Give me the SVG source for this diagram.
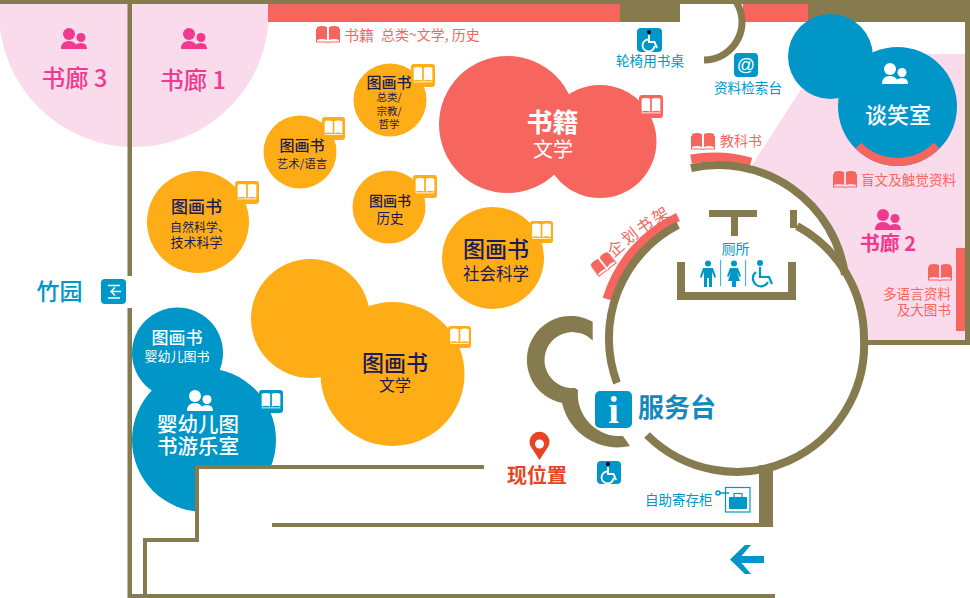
<svg xmlns="http://www.w3.org/2000/svg" xmlns:xlink="http://www.w3.org/1999/xlink" width="970" height="598" viewBox="0 0 970 598">
<style>
text{font-family:"Noto Sans CJK SC","Noto Sans",sans-serif;text-anchor:middle}
.s{text-anchor:start}.e{text-anchor:end}
.n{fill:#1b1b55}.w{fill:#fff}.b{fill:#0096c8}.r{fill:#f6665f}.p{fill:#f0398f}
.wall{fill:#867b4e}.ws{fill:none;stroke:#867b4e}
.o{fill:#ffad17}.bf{fill:#0096c8}.rf{fill:#f6665f}
</style>
<defs>
<g id="bk"><path d="M0,1 Q5,-1 10,1 V14 Q5,12 0,14 Z M12,1 Q17,-1 22,1 V14 Q17,12 12,14 Z"/><path d="M-1,3 V16.500 H9.500 Q11,18 12.500,16.500 H23 V3 H22 V15.500 H12 L11,16.500 L10,15.500 H0 V3 Z"/></g>
<g id="ppl"><circle cx="8" cy="6" r="6"/><path d="M0,21 Q0,13 8,13 Q13,13 15,17 V21 Z"/><circle cx="20" cy="9.500" r="4.500"/><path d="M13,21 Q13,15 20,15 Q26,15 26,21 Z"/></g>
<g id="wh"><circle cx="0" cy="-9" r="2"/><path d="M0,-6 V1 H5.500 L8,7" fill="none" stroke="#fff" stroke-width="2"/><path d="M-1,-1.500 A6,6 0 1 0 5.500,5" fill="none" stroke="#fff" stroke-width="1.800"/></g>
<g id="badge"><path d="M-11,-9 Q-6,-11 -1,-9 V6 Q-6,4 -11,6 Z M1,-9 Q6,-11 11,-9 V6 Q6,4 1,6 Z" fill="#fff"/><path d="M-11,7.500 H11" stroke="#fff" fill="none"/></g>
<clipPath id="top"><rect x="0" y="4" width="970" height="594"/></clipPath>
<path id="arcT" d="M614,258 Q640,232 682,210"/>
</defs>

<g id="floor-zones">
<circle cx="134" cy="12" r="135" fill="#fadbec" clip-path="url(#top)"/>
<path d="M752,165 L802,88 L838,54 H965 V340 H864 A128,128 0 0 0 842,268 A128,128 0 0 0 752,170 Z" fill="#fadbec"/>
<rect x="268" y="4" width="352" height="18" class="rf"/>
<rect x="743" y="4" width="65" height="18" class="rf"/>
<rect x="956" y="248" width="10" height="83" class="rf"/>
<path d="M691,159 A138,138 0 0 1 751,162" fill="none" stroke="#f6665f" stroke-width="9"/>
<path d="M678,217 A134,134 0 0 0 607,299" fill="none" stroke="#f6665f" stroke-width="9"/>
</g>

<g id="walls">
<rect x="0" y="0" width="970" height="4" class="wall"/>
<rect x="620" y="0" width="60" height="22" class="wall"/>
<rect x="808" y="0" width="162" height="22" class="wall"/>
<rect x="965" y="0" width="5" height="345" class="wall"/>
<rect x="866" y="340" width="104" height="5" class="wall"/>
<path d="M735,0 A38,38 0 0 1 704,60" class="ws" stroke-width="7"/>
<rect x="127.500" y="0" width="4.500" height="276" class="wall"/>
<rect x="127.500" y="308" width="4.500" height="290" class="wall"/>
<path d="M691,168 A128,128 0 0 1 845,275" class="ws" stroke-width="8"/>
<path d="M678,225 A127.500,127.500 0 0 0 617,383" class="ws" stroke-width="8"/>
<path d="M647,435 A127.500,127.500 0 0 0 864,338 A127.500,127.500 0 0 0 797,226" class="ws" stroke-width="8"/>
<path d="M790,210 H797 V228 H790 Z" class="wall"/>
<path d="M709,210 H757 V217 H738 V236 H731 V217 H709 Z" class="wall"/>
<path d="M677,262 H685 V292 H788 V262 H796 V300 H677 Z" class="wall"/>
<path d="M592.700,321.700 A44,44 0 1 0 562,403 A57,57 0 0 0 630,446 L623,436 A42,42 0 0 1 578,390 L575,388 A28,28 0 1 1 592.700,340.700 Z" class="wall"/>
</g>

<g id="node-orange-lit"><circle cx="310.500" cy="318.500" r="59.500" class="o"/><circle cx="392.500" cy="374" r="72" class="o"/><rect x="448" y="326" width="23" height="22" rx="3" class="o"/><use href="#badge" transform="translate(459.500,337) scale(.85)"/><text x="395" y="371" font-size="22" font-weight="500" class="n">图画书</text><text x="395" y="391" font-size="16" class="n">文学</text></g>
<g id="node-orange-sci"><circle cx="198" cy="222" r="51" class="o"/><rect x="235" y="181" width="24" height="23" rx="3" class="o"/><use href="#badge" transform="translate(247,192.500) scale(.85)"/><text x="196.500" y="213" font-size="17" font-weight="500" class="n">图画书</text><text x="170" y="232" font-size="12" class="n s">自然科学、</text><text x="196.500" y="247" font-size="13" class="n">技术科学</text></g>
<g id="node-orange-art"><circle cx="300" cy="152" r="36.500" class="o"/><rect x="322" y="117" width="23" height="23" rx="3" class="o"/><use href="#badge" transform="translate(333.500,128.500) scale(.8)"/><text x="302" y="151" font-size="15" font-weight="500" class="n">图画书</text><text x="302" y="168" font-size="11.500" class="n">艺术/语言</text></g>
<g id="node-orange-gen"><circle cx="390" cy="100" r="36.500" class="o"/><rect x="411" y="64" width="24" height="23" rx="3" class="o"/><use href="#badge" transform="translate(423,75.500) scale(.85)"/><text x="389" y="88" font-size="15" font-weight="500" class="n">图画书</text><text x="389" y="101" font-size="10.500" class="n">总类/</text><text x="389" y="115" font-size="10.500" class="n">宗教/</text><text x="389" y="128" font-size="10.500" class="n">哲学</text></g>
<g id="node-orange-his"><circle cx="389" cy="207" r="36.500" class="o"/><rect x="413" y="175" width="24" height="23" rx="3" class="o"/><use href="#badge" transform="translate(425,186.500) scale(.85)"/><text x="390" y="206" font-size="14" font-weight="500" class="n">图画书</text><text x="390" y="223" font-size="13.500" class="n">历史</text></g>
<g id="node-orange-soc"><circle cx="493" cy="258" r="51" class="o"/><rect x="530" y="221" width="23" height="22" rx="3" class="o"/><use href="#badge" transform="translate(541.500,232) scale(.85)"/><text x="496" y="257" font-size="22" font-weight="500" class="n">图画书</text><text x="496" y="280" font-size="16.500" class="n">社会科学</text></g>
<g id="node-red-lit"><circle cx="507.500" cy="124.500" r="68.500" class="rf"/><circle cx="600" cy="141.500" r="56.500" class="rf"/><rect x="639" y="95" width="24" height="23" rx="3" class="rf"/><use href="#badge" transform="translate(651,106.500) scale(.85)"/><text x="552.500" y="132" font-size="26" font-weight="700" class="w">书籍</text><text x="553" y="157" font-size="20" class="w">文学</text></g>
<g id="node-blue-baby"><circle cx="177.500" cy="353" r="45.500" class="bf"/><circle cx="204" cy="440" r="72" class="bf"/><rect x="259" y="390" width="24" height="23" rx="3" class="bf"/><use href="#badge" transform="translate(271,401.500) scale(.85)"/><path d="M199,469 H290 V520 H199 Z" fill="#fff"/><text x="177" y="344" font-size="17" font-weight="500" class="w">图画书</text><text x="177" y="361" font-size="13" class="w">婴幼儿图书</text><use href="#ppl" transform="translate(187,390)" fill="#fff"/><text x="198" y="432" font-size="20.500" font-weight="500" class="w">婴幼儿图</text><text x="198" y="454" font-size="20.500" font-weight="500" class="w">书游乐室</text></g>
<g id="node-talk"><circle cx="830.500" cy="56.500" r="42.500" class="bf"/><circle cx="897.500" cy="106.500" r="59.500" class="bf"/><path d="M858.300,145.700 A55.500,55.500 0 0 0 936.700,145.700" fill="none" stroke="#f6665f" stroke-width="8"/><use href="#ppl" transform="translate(882,63)" fill="#fff"/><text x="898" y="123" font-size="22" font-weight="500" class="w">谈笑室</text></g>

<g id="walls-front">
<path d="M132,594 H775 V598 H132 Z" class="wall"/>
<path d="M143,598 V538 H195 V465 H484 V469 H199 V542 H147 V598 Z" class="wall"/>
<path d="M272,523 H759 V465 H773 V527 H272 Z" class="wall"/>
</g>

<g id="node-gallery3"><use href="#ppl" transform="translate(61,28)" fill="#f0398f"/><text x="74.500" y="87" font-size="23.500" font-weight="500" class="p">书廊 3</text></g>
<g id="node-gallery1"><use href="#ppl" transform="translate(181,28)" fill="#f0398f"/><text x="193" y="89" font-size="23.500" font-weight="500" class="p">书廊 1</text></g>
<g id="node-gallery2"><use href="#ppl" transform="translate(875,209)" fill="#f0398f"/><text x="888" y="251" font-size="20" font-weight="700" class="p">书廊 2</text></g>
<g id="node-books-top"><use href="#bk" transform="translate(317,26)" fill="#f6665f"/><text x="344" y="41" font-size="15" class="s r">书籍</text><text x="381" y="40" font-size="14" class="s r">总类~文学, 历史</text></g>
<g id="node-textbook"><use href="#bk" transform="translate(692,133)" fill="#f6665f"/><text x="720" y="146" font-size="14" class="s r">教科书</text></g>
<g id="node-braille"><use href="#bk" transform="translate(834,171)" fill="#f6665f"/><text x="861" y="185" font-size="13.600" class="s r">盲文及触觉资料</text></g>
<g id="node-multi"><use href="#bk" transform="translate(929,264)" fill="#f6665f"/><text x="951" y="299" font-size="13.600" class="e r">多语言资料</text><text x="951" y="315" font-size="13.600" class="e r">及大图书</text></g>
<g id="node-shelf"><use href="#bk" transform="translate(590,264) rotate(-38) scale(.95)" fill="#f6665f"/><text font-size="16" letter-spacing="2" class="r" style="text-anchor:start"><textPath href="#arcT" xlink:href="#arcT">企划书架</textPath></text></g>
<g id="node-wheel-desk"><rect x="637" y="28" width="25" height="24" rx="4" class="bf"/><use href="#wh" transform="translate(649,41)"/><text x="650" y="66" font-size="13.600" class="b">轮椅用书桌</text></g>
<g id="node-search"><rect x="734" y="53" width="24" height="24" rx="4" class="bf"/><text x="746" y="71" font-size="18" class="w" style="font-family:'Liberation Sans',sans-serif">@</text><text x="748" y="93" font-size="13.600" class="b">资料检索台</text></g>
<g id="node-toilet"><text x="735.500" y="254" font-size="14" class="b">厕所</text>
<g fill="#0096c8"><circle cx="708" cy="263.500" r="3"/><path d="M703,268 H713 L716,277 L714.500,278 L712,272 V287 H709 V278 H707 V287 H704 V272 L701.500,278 L700,277 Z"/><circle cx="734" cy="263.500" r="3"/><path d="M730,268 H738 L741,276 L739.500,277 L737,272 L740,281 H736 V287 H732 V281 H728 L731,272 L728.500,277 L727,276 Z"/><rect x="720.300" y="260" width=".8" height="26"/><rect x="745.300" y="260" width=".8" height="26"/><circle cx="760" cy="263" r="3"/></g><path d="M760,267 V277 H769 L772,284 M756,272 A8,8 0 1 0 768,282" fill="none" stroke="#0096c8" stroke-width="2.200"/></g>
<g id="node-info"><rect x="595" y="391" width="37" height="37" rx="5" class="bf"/><text x="613.500" y="423" font-size="38" font-weight="700" class="w" style="font-family:'Liberation Serif',serif">i</text><text x="677" y="417" font-size="26" font-weight="700" fill="#1589bf">服务台</text></g>
<g id="node-here"><path d="M539.500,460 L531,447 A10,10 0 1 1 548,447 Z" fill="#e84424"/><circle cx="539.500" cy="444" r="4.500" fill="#fff"/><text x="537" y="483" font-size="20" font-weight="700" fill="#e84424">现位置</text></g>
<g id="node-wheel"><rect x="597" y="461" width="24" height="23" rx="4" class="bf"/><use href="#wh" transform="translate(608,473)"/></g>
<g id="node-locker"><text x="645" y="505" font-size="13.500" class="s b">自助寄存柜</text><rect x="725.500" y="487.500" width="24.500" height="24.500" fill="#fff" stroke="#0096c8" stroke-width="1.200"/><rect x="729" y="497" width="18" height="12" rx="1" class="bf"/><rect x="734" y="493.500" width="8" height="4" fill="none" stroke="#0096c8" stroke-width="1.200"/><circle cx="718" cy="493" r="2" fill="none" stroke="#0096c8" stroke-width="1.500"/><path d="M720,493 H729" stroke="#0096c8" stroke-width="1.500"/></g>
<g id="node-arrow"><path d="M730,559.500 L745,545 H751 L741.500,556 H764 V563 H741.500 L751,574 H745 Z" class="bf"/></g>
<g id="node-garden"><text x="59.500" y="300" font-size="23" font-weight="500" class="b">竹园</text><rect x="101" y="279" width="25" height="25" rx="4" class="bf"/><path d="M108,285.500 H120 M108,298 H120 M121,291.500 H111 M115,287.500 L111,291.500 L115,295.500" fill="none" stroke="#fff" stroke-width="1.500"/></g>
</svg>
